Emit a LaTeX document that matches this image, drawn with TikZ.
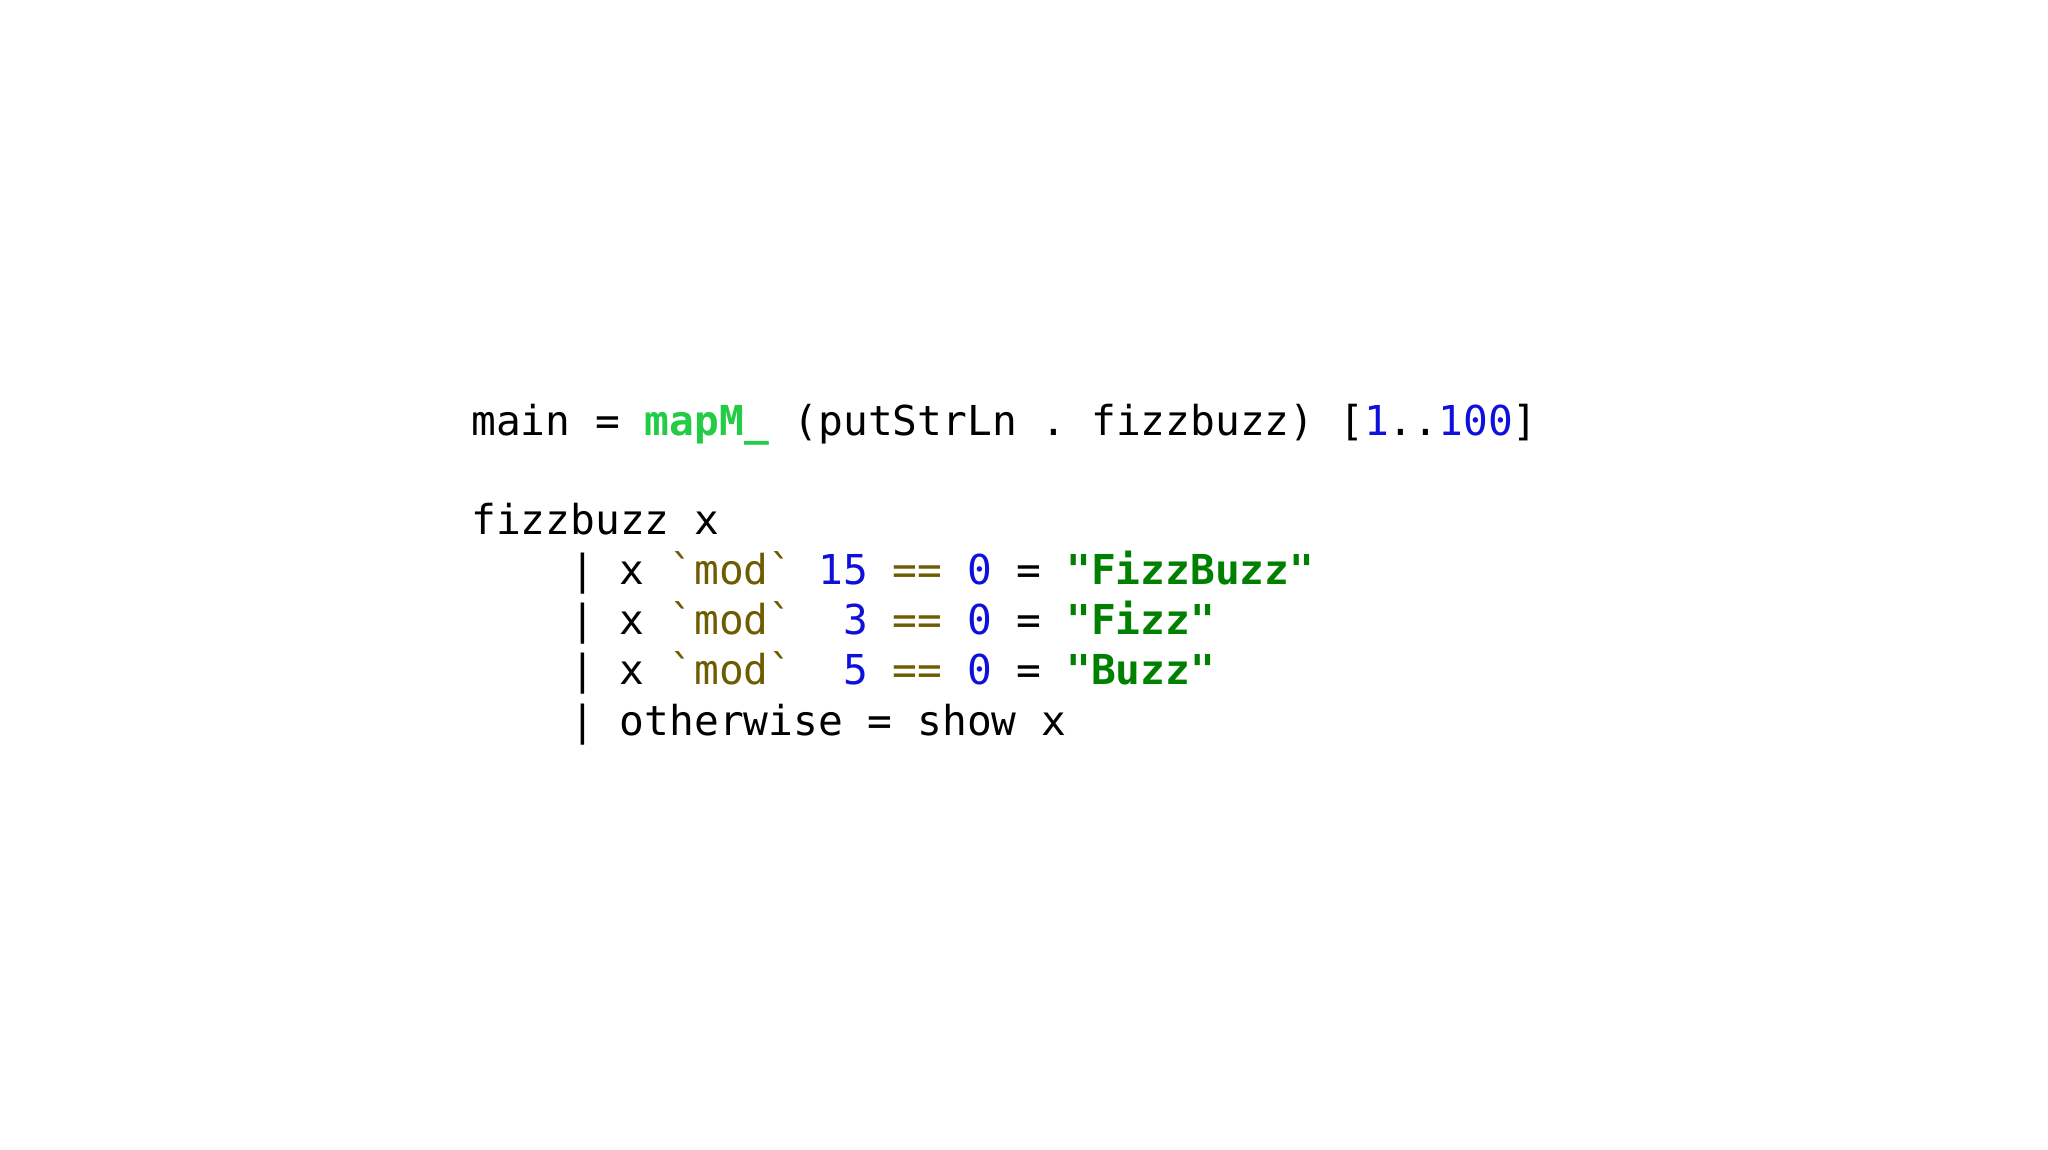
\documentclass[tikz,border=0pt]{standalone}
\usepackage{fontspec}
\setmonofont{DejaVu Sans Mono}
\definecolor{kwgreen}{HTML}{22CC44}
\definecolor{strgreen}{HTML}{008000}
\definecolor{numblue}{HTML}{1010DD}
\definecolor{opolive}{HTML}{6E5C00}
\newcommand{\cnum}[1]{\textcolor{numblue}{#1}}
\newcommand{\cop}[1]{\textcolor{opolive}{#1}}
\newcommand{\cstr}[1]{\textcolor{strgreen}{\bfseries #1}}
\begin{document}
\begin{tikzpicture}[x=1pt,y=1pt,
  codeline/.style={anchor=base west,inner sep=0pt,font=\fontsize{41.2}{50}\ttfamily}]
\fill[white] (0,0) rectangle (2048,1150);
\useasboundingbox (0,0) rectangle (2048,1150);
\node[codeline] (l1) at (471,714) {main = \textcolor{kwgreen}{\bfseries mapM\_} (putStrLn . fizzbuzz) [\cnum{1}..\cnum{100}]};
\node[codeline] (l2) at (471,615) {fizzbuzz x};
\node[codeline] (l3) at (570,565) {| x \cop{`mod`} \cnum{15} \cop{==} \cnum{0} = \cstr{"FizzBuzz"}};
\node[codeline] (l4) at (570,515) {| x \cop{`mod`}~~\cnum{3} \cop{==} \cnum{0} = \cstr{"Fizz"}};
\node[codeline] (l5) at (570,465) {| x \cop{`mod`}~~\cnum{5} \cop{==} \cnum{0} = \cstr{"Buzz"}};
\node[codeline] (l6) at (570,414) {| otherwise = show x};
\end{tikzpicture}
\end{document}
